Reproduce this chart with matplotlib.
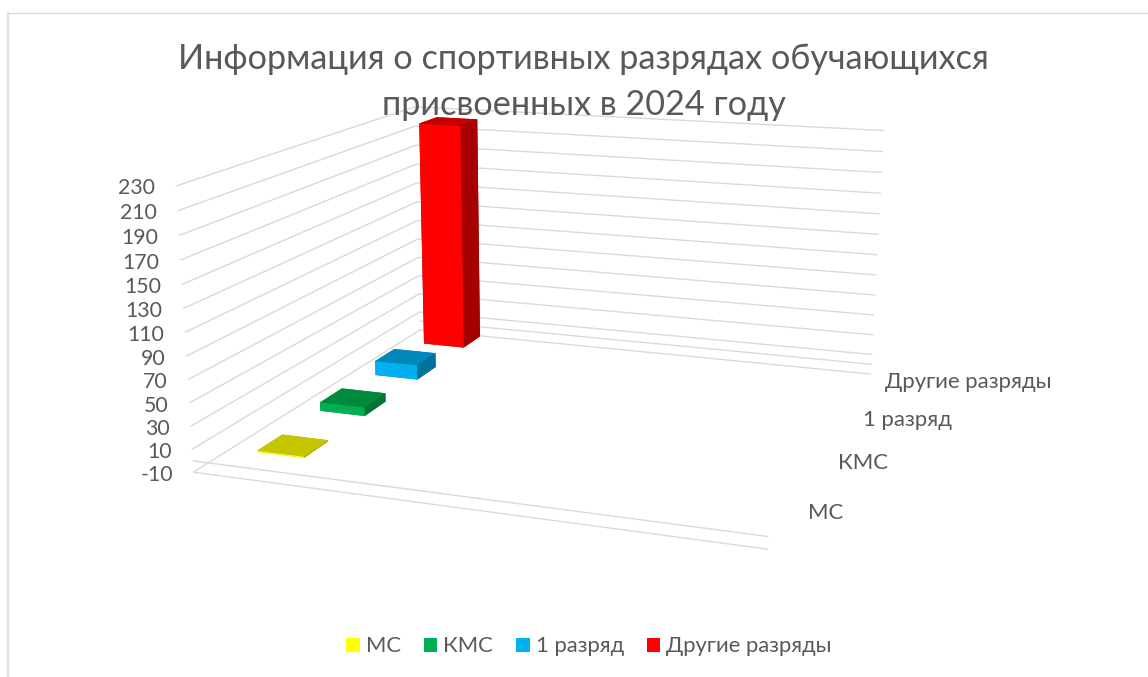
import numpy as np
import matplotlib
matplotlib.use("Agg")
import matplotlib.pyplot as plt
from matplotlib.patches import Patch
from matplotlib.lines import Line2D
from mpl_toolkits.mplot3d.art3d import Line3DCollection

# ---- data ----
series_names = ["МС", "КМС", "1 разряд", "Другие разряды"]
series_values = [1, 8, 14, 226]
value_ticks = [-10, 10, 30, 50, 70, 90, 110, 130, 150, 170, 190, 210, 230]
front_colors = ["#FFFF00", "#00B050", "#00B0F0", "#FF0000"]
top_colors = ["#C6C600", "#008A3E", "#0088BA", "#C60000"]
side_colors = ["#A6A600", "#007434", "#00739D", "#A60000"]
title_text = "Информация о спортивных разрядах обучающихся\nприсвоенных в 2024 году"

W, H = 1148, 677
TEXT = "#595959"
GRID = "#D9D9D9"
plt.rcParams["font.family"] = ["Lato", "Open Sans", "DejaVu Sans"]

# camera of the 3-D chart: data (category 0..1, series 0..4, value) -> image pixels
camera = np.array([
    [488.617, 352.736 / 4, -0.108069, 192.652],
    [14.973, -43.659 / 4, -1.231061, 460.795],
    [-1.0, 0.25, -1 / 230, 0.0],
    [-0.113283, 0.299417 / 4, -0.000195, 1.0],
])


def to_fig(x, y, z, dx=0.0, dy=0.0):
    """Figure fraction of a data point, with a nudge in pixels."""
    px = camera @ np.array([x, y, z, 1.0])
    return (px[0] / px[3] + dx) / W, 1 - (px[1] / px[3] + dy) / H


fig = plt.figure(figsize=(W / 100, H / 100), dpi=100, facecolor="white")
# square 3-D axes of figure width, centred vertically
ax = fig.add_axes([0, -(W - H) / 2 / H, 1, W / H], projection="3d")
ax.set_axis_off()
ax.patch.set_visible(False)
ax.computed_zorder = False
ax.get_proj = lambda: camera

# gridlines on the two walls and the floor edges
segments = []
for v in value_ticks:
    segments.append([(0, 0, v), (0, 4, v)])
    segments.append([(0, 4, v), (1, 4, v)])
segments.append([(0, 4, 0), (1, 4, 0)])
segments.append([(0, 0, -10), (1, 0, -10)])
segments.append([(0, 0, 0), (1, 0, 0)])
ax.add_collection3d(Line3DCollection(segments, colors=GRID, linewidths=1.0, zorder=1), autolim=False)

# bars
BAR_X, BAR_DX = 0.082, 0.091
BAR_Y, BAR_DY = 0.32, 0.38
for i in range(3, -1, -1):
    ax.bar3d(BAR_X, i + BAR_Y, 0, BAR_DX, BAR_DY, series_values[i],
             color=[top_colors[i], top_colors[i], front_colors[i], side_colors[i], side_colors[i], side_colors[i]],
             shade=False, zorder=10 + 3 - i, linewidth=0)

# labels
for v in value_ticks:
    fx, fy = to_fig(0, 0, v, dx=-20.5, dy=2.5)
    fig.text(fx, fy, str(v), ha="right", va="center", color=TEXT, fontsize=15.3)
for i, name in enumerate(series_names):
    fx, fy = to_fig(1, i + 0.5, -10, dx=24, dy=-8.5)
    fig.text(fx, fy, name, ha="left", va="center", color=TEXT, fontsize=15.9)

fig.text(583.5 / W, 1 - 82 / H, title_text, ha="center", va="center", color=TEXT,
         fontsize=24.7, linespacing=1.52)

handles = [Patch(facecolor=c, edgecolor="none", label=n) for c, n in zip(front_colors, series_names)]
fig.legend(handles=handles, ncol=4, loc="center", bbox_to_anchor=(589 / W, 1 - 646.5 / H), frameon=False,
           fontsize=15.8, handlelength=0.62, handleheight=0.62, handletextpad=0.27,
           columnspacing=1.05, labelcolor=TEXT, borderpad=0, borderaxespad=0)

# chart frame
fig.add_artist(Line2D([7 / W, 1], [1 - 12.5 / H] * 2, color=GRID, lw=1.0, transform=fig.transFigure))
fig.add_artist(Line2D([7.5 / W] * 2, [0, 1 - 12.5 / H], color="#E2E2E2", lw=1.5, transform=fig.transFigure))

ax.viewLim.intervalx = (0, W)
ax.viewLim.intervaly = (H + (W - H) / 2, -(W - H) / 2)

fig.savefig("out.png", dpi=100)
